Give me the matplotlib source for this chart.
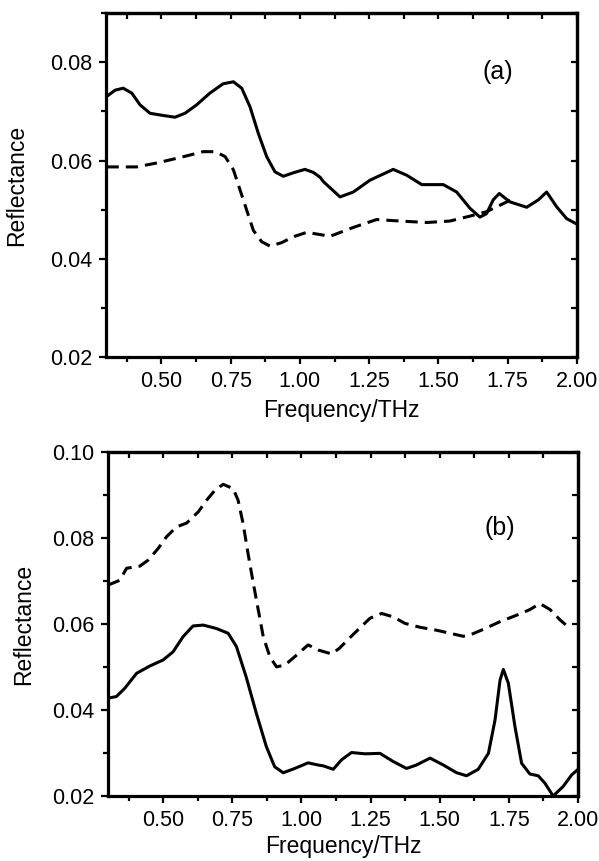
# Reflectance spectra, panels (a) and (b)

import numpy as np
import matplotlib
matplotlib.use('Agg')
import matplotlib.pyplot as plt
from matplotlib.ticker import MultipleLocator, FormatStrFormatter

plt.rcParams['font.family'] = ['Liberation Sans', 'DejaVu Sans']

# panel (a), solid
fa_solid = [0.302, 0.333, 0.362, 0.393, 0.423, 0.459, 0.501, 0.549, 0.585, 0.627,
            0.675, 0.723, 0.760, 0.790, 0.820, 0.850, 0.880, 0.910, 0.940, 0.976,
            1.018, 1.048, 1.073, 1.085, 1.145, 1.193, 1.253, 1.337, 1.386, 1.440,
            1.518, 1.566, 1.614, 1.650, 1.674, 1.698, 1.720, 1.758, 1.819, 1.861,
            1.891, 1.927, 1.963, 1.999]
ra_solid = [0.0730, 0.0743, 0.0747, 0.0737, 0.0713, 0.0696, 0.0692, 0.0688, 0.0696, 0.0713,
            0.0737, 0.0756, 0.0760, 0.0747, 0.0709, 0.0655, 0.0608, 0.0577, 0.0568, 0.0575,
            0.0582, 0.0576, 0.0566, 0.0557, 0.0526, 0.0536, 0.0560, 0.0582, 0.0570, 0.0551,
            0.0551, 0.0536, 0.0503, 0.0485, 0.0492, 0.0520, 0.0533, 0.0516, 0.0505, 0.0520,
            0.0536, 0.0506, 0.0482, 0.0471]

# panel (a), dashed
fa_dash = [0.302, 0.411, 0.483, 0.567, 0.651, 0.694, 0.730, 0.760, 0.784, 0.808,
           0.832, 0.862, 0.892, 0.934, 0.976, 1.025, 1.109, 1.193, 1.277, 1.361,
           1.458, 1.542, 1.614, 1.674, 1.722, 1.776]
ra_dash = [0.0587, 0.0587, 0.0595, 0.0606, 0.0618, 0.0618, 0.0608, 0.0581, 0.0540, 0.0499,
           0.0458, 0.0435, 0.0426, 0.0433, 0.0445, 0.0454, 0.0446, 0.0464, 0.0480, 0.0477,
           0.0474, 0.0477, 0.0487, 0.0496, 0.0509, 0.0524]

# panel (b), solid
fb_solid = [0.307, 0.331, 0.361, 0.404, 0.452, 0.500, 0.536, 0.572, 0.608, 0.645,
            0.693, 0.735, 0.765, 0.800, 0.837, 0.873, 0.903, 0.934, 0.976, 1.024,
            1.060, 1.079, 1.115, 1.145, 1.181, 1.229, 1.284, 1.332, 1.380, 1.416,
            1.465, 1.513, 1.561, 1.597, 1.639, 1.676, 1.700, 1.718, 1.730, 1.748,
            1.772, 1.796, 1.826, 1.856, 1.880, 1.910, 1.946, 1.977, 2.000]
rb_solid = [0.0429, 0.0432, 0.0451, 0.0486, 0.0503, 0.0517, 0.0536, 0.0571, 0.0596, 0.0598,
            0.0590, 0.0579, 0.0548, 0.0478, 0.0393, 0.0316, 0.0269, 0.0255, 0.0265, 0.0278,
            0.0273, 0.0271, 0.0263, 0.0285, 0.0302, 0.0299, 0.0300, 0.0281, 0.0265, 0.0273,
            0.0289, 0.0273, 0.0255, 0.0248, 0.0263, 0.0300, 0.0378, 0.0470, 0.0495, 0.0463,
            0.0362, 0.0277, 0.0252, 0.0248, 0.0231, 0.0201, 0.0223, 0.0250, 0.0263]

# panel (b), dashed
fb_dash = [0.301, 0.343, 0.368, 0.416, 0.446, 0.482, 0.512, 0.548, 0.585, 0.627,
           0.657, 0.687, 0.717, 0.753, 0.771, 0.789, 0.807, 0.826, 0.844, 0.862,
           0.886, 0.910, 0.940, 0.982, 1.024, 1.061, 1.109, 1.137, 1.185, 1.248,
           1.290, 1.332, 1.374, 1.428, 1.489, 1.537, 1.585, 1.609, 1.657, 1.718,
           1.778, 1.826, 1.862, 1.899, 1.935, 1.971]
rb_dash = [0.0691, 0.0702, 0.0730, 0.0735, 0.0749, 0.0776, 0.0803, 0.0826, 0.0835, 0.0861,
           0.0888, 0.0911, 0.0925, 0.0915, 0.0888, 0.0834, 0.0764, 0.0695, 0.0633, 0.0571,
           0.0524, 0.0501, 0.0505, 0.0528, 0.0552, 0.0540, 0.0531, 0.0544, 0.0575, 0.0614,
           0.0625, 0.0617, 0.0602, 0.0593, 0.0586, 0.0579, 0.0572, 0.0575, 0.0588, 0.0606,
           0.0621, 0.0634, 0.0648, 0.0634, 0.0610, 0.0590]


def style_axes(ax, ylim, ymajor):
    ax.set_xlim(0.3, 2.0)
    ax.set_ylim(*ylim)
    ax.xaxis.set_major_locator(MultipleLocator(0.25))
    ax.xaxis.set_minor_locator(MultipleLocator(0.125))
    ax.yaxis.set_major_locator(MultipleLocator(ymajor))
    ax.yaxis.set_minor_locator(MultipleLocator(ymajor / 2))
    ax.xaxis.set_major_formatter(FormatStrFormatter('%.2f'))
    ax.yaxis.set_major_formatter(FormatStrFormatter('%.2f'))
    ax.tick_params(which='major', direction='out', length=5, width=1.6,
                   labelsize=15.5, pad=5)
    ax.tick_params(which='minor', direction='out', length=3.5, width=1.6)
    for s in ax.spines.values():
        s.set_linewidth(2.3)
    # inward ticks on top and right
    top = ax.secondary_xaxis('top')
    top.xaxis.set_major_locator(MultipleLocator(0.25))
    top.xaxis.set_minor_locator(MultipleLocator(0.125))
    top.tick_params(which='both', direction='in', length=4, width=1.6, labeltop=False)
    top.spines['top'].set_linewidth(2.3)
    right = ax.secondary_yaxis('right')
    right.yaxis.set_major_locator(MultipleLocator(ymajor))
    right.yaxis.set_minor_locator(MultipleLocator(ymajor / 2))
    right.tick_params(which='both', direction='in', length=4, width=1.6, labelright=False)
    right.spines['right'].set_linewidth(2.3)


fig = plt.figure(figsize=(5.99, 8.61), dpi=100)
ax1 = fig.add_axes([0.177, 0.585, 0.786, 0.400])
ax2 = fig.add_axes([0.180, 0.075, 0.785, 0.400])

ax1.plot(fa_solid, ra_solid, color='black', lw=2.2)
ax1.plot(fa_dash, ra_dash, color='black', lw=2.2, dashes=(4, 2.3))
style_axes(ax1, (0.02, 0.09), 0.02)
ax1.text(1.715, 0.078, '(a)', fontsize=18, ha='center', va='center')
ax1.set_xlabel('Frequency/THz', fontsize=16.5)
ax1.set_ylabel('Reflectance', fontsize=16.5)
ax1.xaxis.set_label_coords(0.5, -0.12)
ax1.yaxis.set_label_coords(-0.166, 0.5)

ax2.plot(fb_solid, rb_solid, color='black', lw=2.2)
ax2.plot(fb_dash, rb_dash, color='black', lw=2.2, dashes=(4, 2.3))
style_axes(ax2, (0.02, 0.10), 0.02)
ax2.text(1.718, 0.0823, '(b)', fontsize=18, ha='center', va='center')
ax2.set_xlabel('Frequency/THz', fontsize=16.5)
ax2.set_ylabel('Reflectance', fontsize=16.5)
ax2.xaxis.set_label_coords(0.5, -0.113)
ax2.yaxis.set_label_coords(-0.155, 0.5)

fig.savefig('out.png', dpi=100)
